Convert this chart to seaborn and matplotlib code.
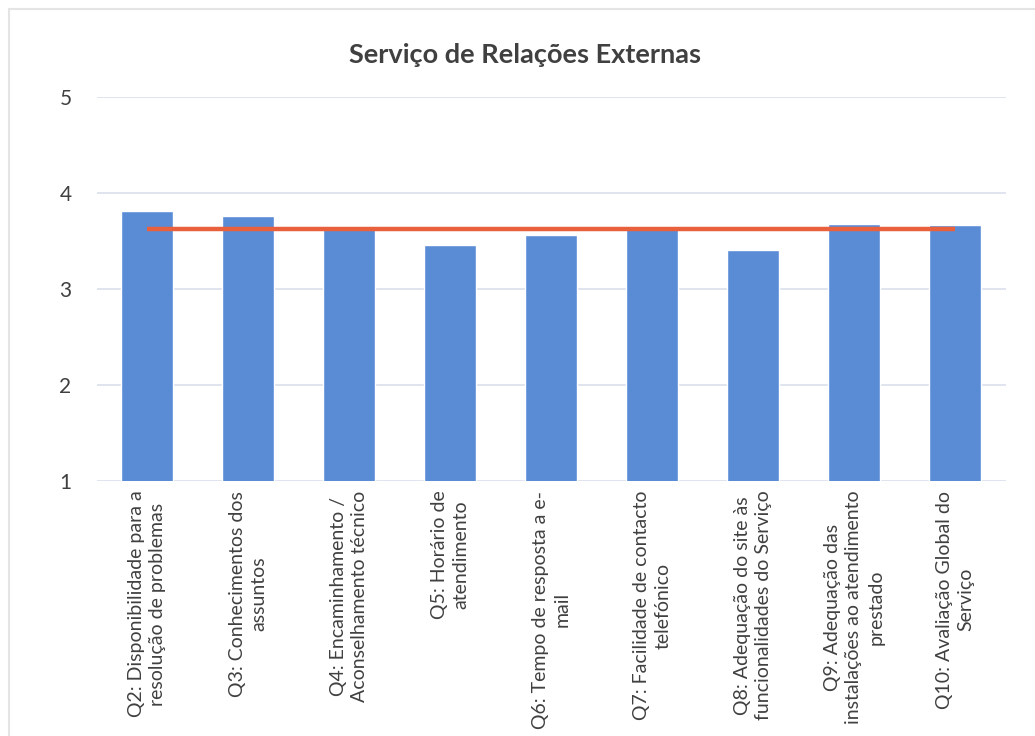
import matplotlib
matplotlib.use("Agg")
import matplotlib.pyplot as plt
import seaborn as sns
import pandas as pd
from matplotlib.patches import Rectangle

# Survey questions (two-line wrapped labels) and their average scores
questions = [
    "Q2: Disponibilidade para a\nresolução de problemas",
    "Q3: Conhecimentos dos\nassuntos",
    "Q4: Encaminhamento /\nAconselhamento técnico",
    "Q5: Horário de\natendimento",
    "Q6: Tempo de resposta a e-\nmail",
    "Q7: Facilidade de contacto\ntelefónico",
    "Q8: Adequação do site às\nfuncionalidades do Serviço",
    "Q9: Adequação das\ninstalações ao atendimento\nprestado",
    "Q10: Avaliação Global do\nServiço",
]
scores = [3.81, 3.76, 3.63, 3.455, 3.565, 3.62, 3.41, 3.68, 3.665]
overall_mean = 3.62
y_ticks = [1, 2, 3, 4, 5]
title = "Serviço de Relações Externas"

sns.set_theme(style="white")
plt.rcParams["font.family"] = ["Lato", "DejaVu Sans"]

W, H = 1035, 736
fig = plt.figure(figsize=(W / 100, H / 100), dpi=100)
fig.patch.set_facecolor("white")

# faint outline of the chart area
fig.patches.append(Rectangle((9 / W, -0.1), 1.2, 1 - 9 / H + 0.1,
                             transform=fig.transFigure, fill=False,
                             edgecolor="#E4E4E4", linewidth=1.5))

left, right = 96.5 / W, 1005.5 / W
bottom, top = 1 - 481 / H, 1 - 97 / H
ax = fig.add_axes([left, bottom, right - left, top - bottom])

df = pd.DataFrame({"question": questions, "score": scores})
sns.barplot(data=df, x="question", y="score", color="#5A8CD6",
            saturation=1, width=0.515, ax=ax, zorder=3)

# mean score across all questions
ax.plot([0, len(questions) - 1], [overall_mean, overall_mean],
        color="#E8603C", linewidth=3.2, zorder=4, solid_capstyle="butt")

ax.set_ylim(1, 5)
ax.set_xlim(-0.5, len(questions) - 0.5)
ax.set_yticks(y_ticks)
for y in y_ticks:
    ax.axhline(y, color="#D6DCEB", linewidth=1.1, zorder=1)
for s in ax.spines.values():
    s.set_visible(False)

ax.set_xlabel("")
ax.set_ylabel("")
ax.tick_params(axis="y", length=0, pad=18, labelsize=15, labelcolor="#404040")
ax.tick_params(axis="x", length=0, pad=7, labelsize=14, labelcolor="#404040")
for lbl in ax.get_xticklabels():
    lbl.set_rotation(90)
    lbl.set_ha("center")
    lbl.set_va("top")
    lbl.set_multialignment("center")
    lbl.set_linespacing(1.35)

fig.text(0.507, 1 - 55 / H, title, ha="center", va="center",
         fontsize=19.5, fontweight="bold", color="#404040")

fig.savefig("out.png", dpi=100, facecolor="white")
